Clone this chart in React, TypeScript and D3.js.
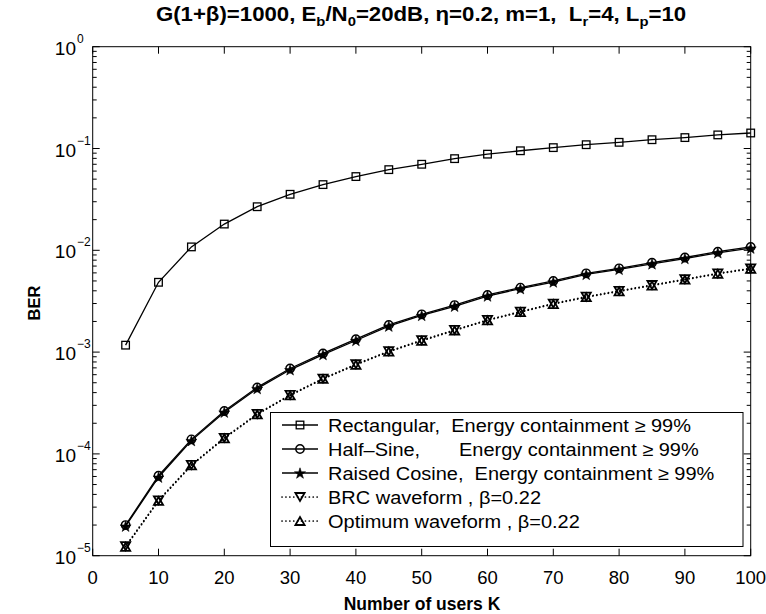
import React from 'react';
import * as d3 from 'd3';

const K = [5, 10, 15, 20, 25, 30, 35, 40, 45, 50, 55, 60, 65, 70, 75, 80, 85, 90, 95, 100];
const rectangular = [1.17e-3, 4.85e-3, 1.08e-2, 1.81e-2, 2.68e-2, 3.55e-2, 4.42e-2, 5.3e-2, 6.2e-2, 7.0e-2, 7.95e-2, 8.8e-2, 9.5e-2, 0.102, 0.109, 0.115, 0.122, 0.128, 0.136, 0.142];
const halfSine = [2.0e-5, 6.1e-5, 1.39e-4, 2.64e-4, 4.5e-4, 6.9e-4, 9.7e-4, 1.34e-3, 1.85e-3, 2.35e-3, 2.9e-3, 3.64e-3, 4.3e-3, 5.0e-3, 5.94e-3, 6.65e-3, 7.55e-3, 8.5e-3, 9.7e-3, 1.08e-2];
const raisedCosine = [1.95e-5, 5.9e-5, 1.35e-4, 2.57e-4, 4.38e-4, 6.7e-4, 9.45e-4, 1.3e-3, 1.8e-3, 2.29e-3, 2.82e-3, 3.55e-3, 4.2e-3, 4.88e-3, 5.8e-3, 6.5e-3, 7.35e-3, 8.3e-3, 9.45e-3, 1.05e-2];
const brc = [1.24e-5, 3.5e-5, 7.8e-5, 1.44e-4, 2.47e-4, 3.8e-4, 5.5e-4, 7.6e-4, 1.02e-3, 1.31e-3, 1.65e-3, 2.07e-3, 2.5e-3, 3.0e-3, 3.5e-3, 4.0e-3, 4.56e-3, 5.2e-3, 5.94e-3, 6.65e-3];
const optimum = [1.22e-5, 3.45e-5, 7.7e-5, 1.42e-4, 2.44e-4, 3.75e-4, 5.45e-4, 7.5e-4, 1.01e-3, 1.29e-3, 1.63e-3, 2.05e-3, 2.47e-3, 2.96e-3, 3.46e-3, 3.95e-3, 4.5e-3, 5.14e-3, 5.87e-3, 6.57e-3];

const xTicks = [0, 10, 20, 30, 40, 50, 60, 70, 80, 90, 100];
const yExps = [0, -1, -2, -3, -4, -5];

const legendLabels = [
  'Rectangular,  Energy containment \u2265 99%',
  'Half\u2013Sine,       Energy containment \u2265 99%',
  'Raised Cosine,  Energy containment \u2265 99%',
  'BRC waveform , \u03b2=0.22',
  'Optimum waveform , \u03b2=0.22',
];

const FONT = 'Liberation Sans, Arial, Helvetica, sans-serif';
const PRE: React.CSSProperties = { whiteSpace: 'pre' };

type MarkerKind = 'square' | 'circle' | 'star' | 'tdown' | 'tup';

function starPath(R: number) {
  const r = R * 0.382;
  const pts: string[] = [];
  for (let i = 0; i < 10; i++) {
    const a = -Math.PI / 2 + (i * Math.PI) / 5;
    const rr = i % 2 === 0 ? R : r;
    pts.push(`${(rr * Math.cos(a)).toFixed(2)},${(rr * Math.sin(a) + R * 0.1).toFixed(2)}`);
  }
  return 'M' + pts.join('L') + 'Z';
}

function Marker({ kind, cx, cy }: { kind: MarkerKind; cx: number; cy: number }) {
  const t = `translate(${cx},${cy})`;
  switch (kind) {
    case 'square':
      return <rect transform={t} x={-3.8} y={-3.8} width={7.6} height={7.6} fill="none" stroke="#000" strokeWidth={1.3} />;
    case 'circle':
      return <circle transform={t} r={4.2} fill="none" stroke="#000" strokeWidth={1.4} />;
    case 'star':
      return <path transform={t} d={starPath(5.8)} fill="#000" stroke="#000" strokeWidth={0.6} />;
    case 'tdown':
      return <path transform={t} d="M-4.6,-4L4.6,-4L0,4Z" fill="none" stroke="#000" strokeWidth={1.8} />;
    case 'tup':
      return <path transform={t} d="M-4.6,4L4.6,4L0,-4Z" fill="none" stroke="#000" strokeWidth={1.8} />;
  }
}

export default function App() {
  const W = 766, H = 614;
  const L = 92.7, R = 750.7, T = 46.7, B = 555.7;
  const x = d3.scaleLinear().domain([0, 100]).range([L, R]);
  const y = d3.scaleLog().domain([1e-5, 1]).range([B, T]);
  const line = d3.line<number>().x((_, i) => x(K[i])).y((v) => y(v));

  const series: { data: number[]; marker: MarkerKind; dotted: boolean }[] = [
    { data: rectangular, marker: 'square', dotted: false },
    { data: halfSine, marker: 'circle', dotted: false },
    { data: raisedCosine, marker: 'star', dotted: false },
    { data: brc, marker: 'tdown', dotted: true },
    { data: optimum, marker: 'tup', dotted: true },
  ];

  const minor: number[] = [];
  for (let e = -5; e < 0; e++) for (let k = 2; k <= 9; k++) minor.push(k * Math.pow(10, e));

  const legX0 = 270.5, legY0 = 412.5, legX1 = 743, legY1 = 546.5;
  const rowY = [425, 449, 473, 497, 521];

  return (
    <svg width={W} height={H} style={{ position: 'absolute', left: 0, top: 0, background: '#fff' }} fontFamily={FONT}>
      <rect width={W} height={H} fill="#fff" />
      {/* title */}
      <text transform="translate(421,21) scale(1.14,1)" textAnchor="middle" fontSize={19.5} fontWeight="bold" xmlSpace="preserve" style={PRE}>
        <tspan>G(1+β)=1000, E</tspan>
        <tspan fontSize={13} dy={5}>b</tspan>
        <tspan dy={-5}>/N</tspan>
        <tspan fontSize={13} dy={5}>0</tspan>
        <tspan dy={-5}>=20dB, η=0.2, m=1,  L</tspan>
        <tspan fontSize={13} dy={5}>r</tspan>
        <tspan dy={-5}>=4, L</tspan>
        <tspan fontSize={13} dy={5}>p</tspan>
        <tspan dy={-5}>=10</tspan>
      </text>

      {/* series lines */}
      {series.map((s, i) => (
        <path key={'l' + i} d={line(s.data) || ''} fill="none" stroke="#000"
          strokeWidth={s.dotted ? 1.7 : 1.3}
          strokeDasharray={s.dotted ? '0.1 3.8' : undefined}
          strokeLinecap={s.dotted ? 'round' : 'butt'} />
      ))}
      {series.map((s, i) => (
        <g key={'m' + i}>
          {s.data.map((v, j) => <Marker key={j} kind={s.marker} cx={x(K[j])} cy={y(v)} />)}
        </g>
      ))}

      {/* axes box */}
      <rect x={L} y={T} width={R - L} height={B - T} fill="none" stroke="#000" strokeWidth={1} />
      {xTicks.map((t) => (
        <g key={'xt' + t}>
          <line x1={x(t)} x2={x(t)} y1={B} y2={B - 7} stroke="#000" />
          <line x1={x(t)} x2={x(t)} y1={T} y2={T + 7} stroke="#000" />
          <text x={x(t)} y={584} textAnchor="middle" fontSize={18.5}>{t}</text>
        </g>
      ))}
      {yExps.map((e) => {
        const yy = y(Math.pow(10, e));
        return (
          <g key={'ye' + e}>
            <line x1={L} x2={L + 7} y1={yy} y2={yy} stroke="#000" />
            <line x1={R} x2={R - 7} y1={yy} y2={yy} stroke="#000" />
            <text x={76} y={yy + 8} textAnchor="end" fontSize={19}>10</text>
            <text x={77} y={yy - 4} textAnchor="start" fontSize={12}>{e === 0 ? '0' : '\u2212' + Math.abs(e)}</text>
          </g>
        );
      })}
      {minor.map((v, i) => (
        <g key={'mn' + i}>
          <line x1={L} x2={L + 4} y1={y(v)} y2={y(v)} stroke="#000" />
          <line x1={R} x2={R - 4} y1={y(v)} y2={y(v)} stroke="#000" />
        </g>
      ))}

      {/* axis labels */}
      <text x={422} y={610} textAnchor="middle" fontSize={17.5} fontWeight="bold">Number of users K</text>
      <text transform="translate(40,303) rotate(-90)" textAnchor="middle" fontSize={16.5} fontWeight="bold">BER</text>

      {/* legend */}
      <rect x={legX0} y={legY0} width={legX1 - legX0} height={legY1 - legY0} fill="#fff" stroke="#000" strokeWidth={1} />
      {series.map((s, i) => (
        <g key={'lg' + i}>
          <line x1={282} x2={318} y1={rowY[i]} y2={rowY[i]} stroke="#000"
            strokeWidth={s.dotted ? 1.7 : 1.3}
            strokeDasharray={s.dotted ? '0.1 3.8' : undefined}
            strokeLinecap={s.dotted ? 'round' : 'butt'} />
          <Marker kind={s.marker} cx={300} cy={rowY[i]} />
          <text transform={`translate(328,${rowY[i] + 6.5}) scale(1.08,1)`} fontSize={18.5} xmlSpace="preserve" style={PRE}>{legendLabels[i]}</text>
        </g>
      ))}
    </svg>
  );
}
